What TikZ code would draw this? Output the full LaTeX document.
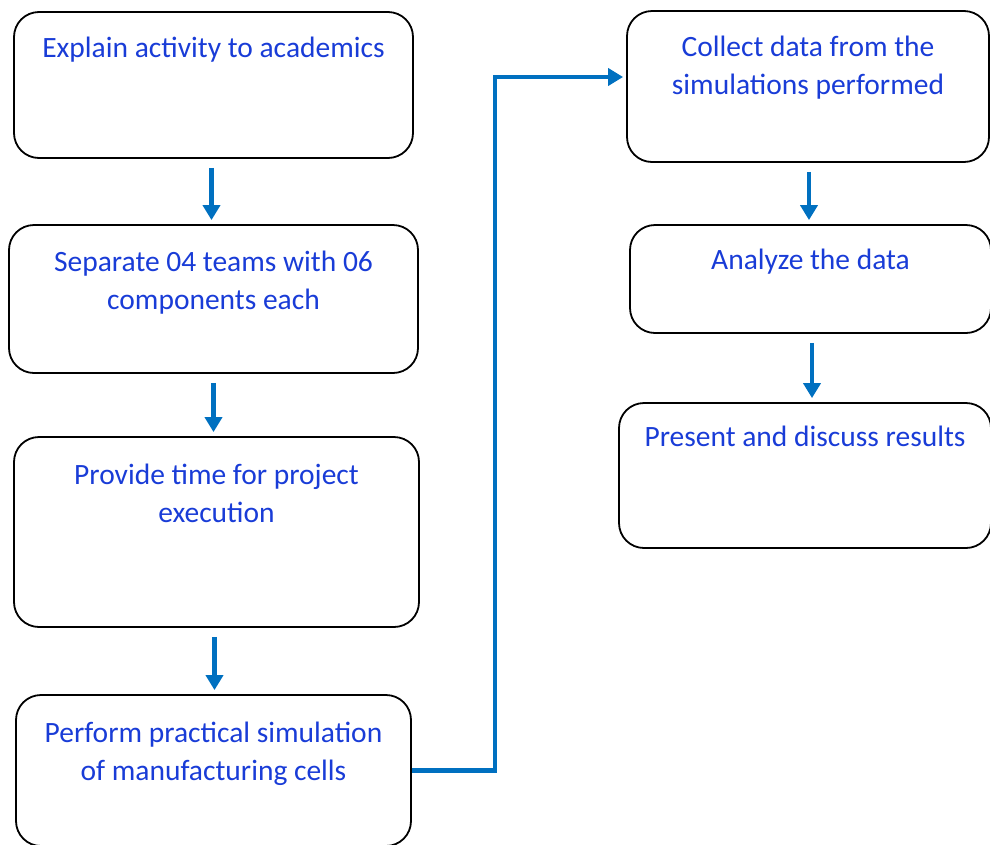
\documentclass[tikz,border=0pt]{standalone}
\usepackage{fontspec}
\setmainfont{Carlito}
\usetikzlibrary{arrows.meta}

\definecolor{txtblue}{RGB}{25,60,215}
\definecolor{arrblue}{RGB}{0,112,192}

\tikzset{
  stage/.style={draw=black, line width=1.8pt, rounded corners=25pt, inner sep=0pt},
  caption/.style={text=txtblue, align=center, anchor=base, inner sep=0pt,
    font=\fontsize{29.5}{38}\selectfont},
  twoline/.style={yshift=-38pt},
  flow/.style={draw=arrblue, line width=4.5pt,
    -{Triangle[width=17pt,length=15pt]}, shorten <=9pt, shorten >=4pt}
}

\begin{document}
\begin{tikzpicture}[x=1pt, y=-1pt]
    \useasboundingbox (0,0) rectangle (990,844);
    \clip (0,0) rectangle (990,844);

    % left column
    \node[stage, minimum width=399pt, minimum height=146pt] (a) at (213.5,85) {};
    \node[stage, minimum width=409pt, minimum height=148pt] (b) at (213.5,299) {};
    \node[stage, minimum width=405pt, minimum height=190pt] (c) at (216.5,532) {};
    \node[stage, minimum width=395pt, minimum height=151pt] (d) at (213.5,770.5) {};

    % right column
    \node[stage, minimum width=362pt, minimum height=151pt] (e) at (808,86.5) {};
    \node[stage, minimum width=361pt, minimum height=108pt] (f) at (810.5,279) {};
    \node[stage, minimum width=372pt, minimum height=145pt] (g) at (805,475.5) {};

    \node[caption] (ta) at ([yshift=-46pt]a.north) {Explain activity to academics};
    \node[caption, twoline] (tb) at ([yshift=-47pt]b.north) {Separate 04 teams with 06\\components each};
    \node[caption, twoline] (tc) at ([yshift=-48pt]c.north) {Provide time for project\\execution};
    \node[caption, twoline] (td) at ([yshift=-48pt]d.north) {Perform practical simulation\\of manufacturing cells};
    \node[caption, twoline] (te) at ([yshift=-46pt]e.north) {Collect data from the\\simulations performed};
    \node[caption] (tf) at ([yshift=-45pt]f.north) {Analyze the data};
    \node[caption] (tg) at ([yshift=-44pt]g.north) {Present and discuss results};

    \draw[flow] ([xshift=-2pt]a.south) -- ([xshift=-2pt]a.south |- b.north);
    \draw[flow] (b.south) -- (b.south |- c.north);
    \draw[flow] ([xshift=-2pt]c.south) -- ([xshift=-2pt]c.south |- d.north);
    \draw[flow] ([xshift=1pt]e.south) -- ([xshift=1pt]e.south |- f.north);
    \draw[flow] ([xshift=1.5pt]f.south) -- ([xshift=1.5pt]f.south |- g.north);

    \coordinate (turn) at (495,77);
    \draw[flow, shorten <=0pt, shorten >=3pt] (d.east) -| (turn) -- (turn -| e.west);
\end{tikzpicture}
\end{document}
